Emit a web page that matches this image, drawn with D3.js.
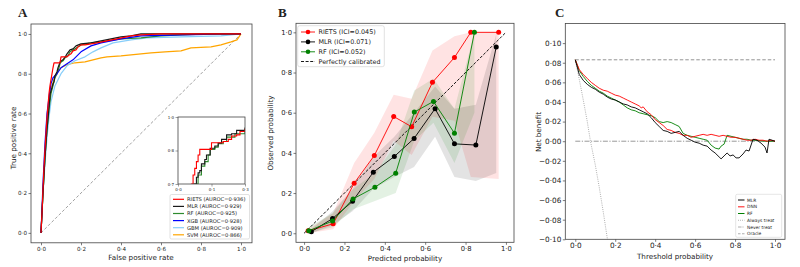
<!DOCTYPE html>
<html><head><meta charset="utf-8">
<script src="https://cdn.jsdelivr.net/npm/d3@7"></script>
<style>body{margin:0;background:#fff} svg{display:block} text{font-family:"DejaVu Sans",sans-serif;fill:#222}</style>
</head><body><svg id="c" width="800" height="267"></svg>
<script>
// ---------- Panel A: ROC ----------
const rocNames = ["RIETS (AUROC=0·936)","MLR (AUROC=0·929)","RF (AUROC=0·925)","XGB (AUROC=0·928)","GBM (AUROC=0·909)","SVM (AUROC=0·866)"];
const rocColors = ["#ff0000","#1a1a1a","#2e8b2e","#0000ff","#87cefa","#ffa500"];
const rocRIETS = [[0,0],[0.005,0.1],[0.01,0.22],[0.015,0.33],[0.02,0.42],[0.025,0.5],[0.03,0.58],[0.035,0.64],[0.04,0.70],[0.045,0.74],[0.05,0.77],[0.055,0.80],[0.06,0.83],[0.065,0.855],[0.095,0.855],[0.1,0.885],[0.13,0.885],[0.135,0.89],[0.15,0.90],[0.16,0.915],[0.175,0.92],[0.185,0.935],[0.2,0.945],[0.22,0.945],[0.28,0.955],[0.33,0.965],[0.38,0.975],[0.45,0.99],[0.5,0.995],[0.6,1],[1,1]];
const rocMLR = [[0,0],[0.005,0.1],[0.01,0.2],[0.02,0.38],[0.03,0.52],[0.04,0.63],[0.046,0.70],[0.055,0.73],[0.06,0.75],[0.065,0.76],[0.07,0.79],[0.08,0.81],[0.085,0.83],[0.096,0.86],[0.11,0.87],[0.12,0.883],[0.13,0.90],[0.145,0.92],[0.16,0.925],[0.175,0.94],[0.2,0.95],[0.25,0.955],[0.3,0.965],[0.35,0.975],[0.4,0.985],[0.45,0.99],[0.5,1],[1,1]];
const rocRF = [[0,0],[0.005,0.1],[0.01,0.2],[0.02,0.38],[0.03,0.52],[0.04,0.62],[0.05,0.70],[0.06,0.74],[0.07,0.78],[0.08,0.80],[0.09,0.83],[0.096,0.855],[0.11,0.865],[0.12,0.88],[0.135,0.89],[0.145,0.91],[0.17,0.925],[0.2,0.945],[0.25,0.955],[0.3,0.96],[0.4,0.975],[0.5,0.98],[0.6,0.99],[0.7,0.995],[0.85,1],[1,1]];
const rocXGB = [[0,0],[0.005,0.12],[0.01,0.25],[0.02,0.45],[0.03,0.6],[0.04,0.68],[0.05,0.75],[0.06,0.78],[0.08,0.8],[0.1,0.83],[0.13,0.85],[0.16,0.87],[0.2,0.91],[0.25,0.94],[0.3,0.955],[0.4,0.975],[0.5,0.99],[0.7,0.995],[0.93,1],[1,1]];
const rocGBM = [[0,0],[0.005,0.1],[0.01,0.2],[0.02,0.35],[0.03,0.48],[0.04,0.58],[0.05,0.66],[0.07,0.74],[0.1,0.8],[0.13,0.84],[0.17,0.865],[0.22,0.885],[0.26,0.91],[0.3,0.93],[0.36,0.955],[0.45,0.97],[0.53,0.98],[0.7,0.985],[0.9,0.99],[1,1]];
const rocSVM = [[0,0],[0.005,0.1],[0.01,0.2],[0.02,0.38],[0.03,0.55],[0.04,0.65],[0.05,0.72],[0.07,0.79],[0.1,0.83],[0.13,0.845],[0.17,0.855],[0.22,0.86],[0.26,0.87],[0.3,0.88],[0.33,0.885],[0.4,0.89],[0.45,0.895],[0.5,0.9],[0.55,0.905],[0.62,0.91],[0.7,0.915],[0.75,0.93],[0.85,0.935],[0.9,0.945],[0.95,0.96],[0.98,0.97],[1,1]];
const rocTicks = [0,0.2,0.4,0.6,0.8,1.0];
const rocTickLabels = ["0·0","0·2","0·4","0·6","0·8","1·0"];
const insetXTicks = [0,0.1,0.2], insetXLabels = ["0·0","0·1","0·3"];
const insetYTicks = [0.7,0.85,1.0], insetYLabels = ["0·7","0·8","1·0"];

// ---------- Panel B: calibration ----------
const calNames = ["RIETS (ICI=0.045)","MLR (ICI=0.071)","RF (ICI=0.052)"];
const calColors = ["#ff0000","#000000","#008000"];
const calRIETSx = [0.02,0.144,0.248,0.348,0.444,0.533,0.636,0.745,0.826,0.964];
const calRIETSy = [0.012,0.047,0.249,0.387,0.581,0.53,0.751,0.875,1.0,1.0];
const calRIETSlo = [0.0,0.02,0.16,0.27,0.46,0.39,0.58,0.56,0.28,0.27];
const calRIETShi = [0.02,0.1,0.35,0.5,0.69,0.67,0.91,0.98,1.0,1.0];
const calMLRx = [0.036,0.141,0.24,0.343,0.447,0.545,0.649,0.745,0.851,0.952];
const calMLRy = [0.008,0.073,0.159,0.304,0.382,0.472,0.62,0.445,0.439,0.927];
const calMLRlo = [0.0,0.04,0.11,0.22,0.28,0.33,0.48,0.28,0.26,0.30];
const calMLRhi = [0.02,0.11,0.22,0.38,0.48,0.6,0.73,0.62,0.64,0.99];
const calRFx = [0.023,0.141,0.243,0.351,0.454,0.546,0.641,0.745,0.844];
const calRFy = [0.012,0.061,0.171,0.229,0.299,0.603,0.656,0.498,1.0];
const calRFlo = [0.0,0.03,0.12,0.16,0.2,0.46,0.55,0.35,0.6];
const calRFhi = [0.03,0.1,0.22,0.3,0.44,0.71,0.77,0.62,1.0];

// ---------- Panel C: decision curve ----------
const dcaNames = ["MLR","DNN","RF","Always treat","Never treat","Oracle"];
const dcaMLR = [[0,0.083],[0.02,0.068],[0.04,0.062],[0.06,0.058],[0.08,0.055],[0.1,0.053],[0.12,0.050],[0.14,0.048],[0.16,0.045],[0.18,0.043],[0.2,0.042],[0.22,0.040],[0.24,0.038],[0.26,0.037],[0.28,0.035],[0.3,0.034],[0.32,0.032],[0.34,0.030],[0.36,0.028],[0.38,0.024],[0.4,0.019],[0.42,0.015],[0.44,0.011],[0.46,0.010],[0.48,0.008],[0.5,0.009],[0.52,0.010],[0.54,0.006],[0.56,0.003],[0.58,0.001],[0.6,-0.001],[0.62,-0.002],[0.64,-0.004],[0.66,-0.005],[0.68,-0.009],[0.7,-0.012],[0.72,-0.016],[0.73,-0.018],[0.745,-0.015],[0.76,-0.012],[0.775,-0.015],[0.79,-0.014],[0.805,-0.017],[0.82,-0.017],[0.84,-0.013],[0.855,-0.009],[0.87,-0.010],[0.89,0.002],[0.91,0.001],[0.93,-0.002],[0.95,-0.006],[0.96,-0.012],[0.97,0.002],[0.985,0.001],[1.0,0.0]];
const dcaDNN = [[0,0.083],[0.02,0.073],[0.04,0.068],[0.06,0.064],[0.08,0.060],[0.1,0.057],[0.12,0.054],[0.14,0.052],[0.16,0.051],[0.18,0.049],[0.2,0.047],[0.22,0.046],[0.24,0.044],[0.26,0.042],[0.28,0.040],[0.3,0.038],[0.32,0.036],[0.33,0.034],[0.34,0.035],[0.36,0.030],[0.38,0.027],[0.4,0.022],[0.42,0.019],[0.44,0.016],[0.46,0.012],[0.48,0.011],[0.5,0.009],[0.52,0.008],[0.54,0.006],[0.56,0.006],[0.58,0.004],[0.6,0.005],[0.62,0.006],[0.64,0.007],[0.66,0.006],[0.68,0.007],[0.7,0.006],[0.72,0.005],[0.74,0.006],[0.76,0.005],[0.78,0.004],[0.8,0.004],[0.82,0.003],[0.84,0.002],[0.86,0.001],[0.88,0.001],[0.9,0.002],[0.92,0.001],[0.94,0.001],[0.96,0.0],[0.98,0.001],[1.0,0.0]];
const dcaRF = [[0,0.083],[0.02,0.072],[0.04,0.066],[0.06,0.061],[0.08,0.057],[0.1,0.054],[0.12,0.051],[0.14,0.049],[0.16,0.046],[0.18,0.044],[0.2,0.042],[0.22,0.040],[0.24,0.037],[0.26,0.034],[0.28,0.032],[0.3,0.031],[0.32,0.029],[0.34,0.028],[0.36,0.027],[0.38,0.026],[0.4,0.024],[0.42,0.020],[0.44,0.019],[0.46,0.020],[0.48,0.019],[0.5,0.017],[0.52,0.015],[0.54,0.008],[0.56,0.006],[0.58,0.005],[0.6,0.004],[0.62,0.003],[0.64,0.002],[0.66,0.001],[0.68,-0.004],[0.7,-0.007],[0.72,-0.008],[0.73,-0.005],[0.745,-0.003],[0.76,0.006],[0.78,0.005],[0.8,0.004],[0.82,0.003],[0.84,0.002],[0.86,0.002],[0.88,0.001],[0.9,0.001],[0.95,0.0],[1.0,0.0]];
const dcaAlways = [[0,0.083],[0.02,0.063],[0.04,0.042],[0.06,0.02],[0.076,0.0],[0.1,-0.024],[0.12,-0.047],[0.14,-0.072],[0.161,-0.10],[0.17,-0.112]];
const dcaNever = [[0,0],[1,0]];
const dcaOracle = [[0,0.083],[1,0.083]];
const dcaYTicks = [-0.10,-0.08,-0.06,-0.04,-0.02,0,0.02,0.04,0.06,0.08,0.10];
const dcaYLabels = ["−0·10","−0·08","−0·06","−0·04","−0·02","0·00","0·02","0·04","0·06","0·08","0·10"];

const svg = d3.select("#c");
const FRAME = "#444";

function axes(g, x, y, xt, xl, yt, yl, fs) {
  const ax = d3.axisBottom(x).tickValues(xt).tickFormat((d,i)=>xl[i]).tickSize(2.5).tickPadding(1.5);
  const ay = d3.axisLeft(y).tickValues(yt).tickFormat((d,i)=>yl[i]).tickSize(2.5).tickPadding(1.5);
  const gx = g.append("g").attr("transform",`translate(0,${y.range()[0]})`).call(ax);
  const gy = g.append("g").attr("transform",`translate(${x.range()[0]},0)`).call(ay);
  [gx,gy].forEach(a=>{a.select(".domain").remove();a.selectAll("line").attr("stroke",FRAME).attr("stroke-width",0.7);
    a.selectAll("text").attr("font-size",fs).attr("font-family","DejaVu Sans").style("fill","#222");});
  g.append("rect").attr("x",x.range()[0]).attr("y",y.range()[1]).attr("width",x.range()[1]-x.range()[0])
   .attr("height",y.range()[0]-y.range()[1]).attr("fill","none").attr("stroke",FRAME).attr("stroke-width",0.8);
}
function panelLabel(t,x,y){svg.append("text").attr("x",x).attr("y",y).text(t).attr("font-family","Liberation Serif").attr("font-weight","bold").attr("font-size",13).style("font-family","Liberation Serif");}
function xlabel(t,x,y,fs){svg.append("text").attr("x",x).attr("y",y).attr("text-anchor","middle").attr("font-size",fs).text(t);}
function ylabel(t,x,y,fs){svg.append("text").attr("transform",`translate(${x},${y}) rotate(-90)`).attr("text-anchor","middle").attr("font-size",fs).text(t);}

// ===== Panel A =====
{
  const x = d3.scaleLinear().domain([-0.05,1.055]).range([31,252]);
  const y = d3.scaleLinear().domain([-0.05,1.05]).range([242.8,24]);
  const g = svg.append("g");
  axes(g,x,y,rocTicks,rocTickLabels,rocTicks,rocTickLabels,5.6);
  g.append("line").attr("x1",x(0)).attr("y1",y(0)).attr("x2",x(1)).attr("y2",y(1)).attr("stroke","#888").attr("stroke-width",0.8).attr("stroke-dasharray","3,2");
  const series = [rocRIETS,rocMLR,rocRF,rocXGB,rocGBM,rocSVM];
  const line = d3.line().x(d=>x(d[0])).y(d=>y(d[1]));
  const drawOrder = [5,4,2,3,1,0];
  drawOrder.forEach(i=>g.append("path").attr("d",line(series[i])).attr("fill","none").attr("stroke",rocColors[i]).attr("stroke-width",1.2).attr("stroke-linejoin","round"));
  // inset
  const ix = d3.scaleLinear().domain([0,0.2]).range([178,245]);
  const iy = d3.scaleLinear().domain([0.7,1.0]).range([184,117]);
  g.append("rect").attr("x",178).attr("y",117).attr("width",67).attr("height",67).attr("fill","#fff");
  svg.append("defs").append("clipPath").attr("id","insClip").append("rect").attr("x",178).attr("y",117).attr("width",67).attr("height",67);
  const gi = g.append("g");
  const iline = d3.line().x(d=>ix(d[0])).y(d=>iy(d[1])).curve(d3.curveStepAfter);
  const gic = gi.append("g").attr("clip-path","url(#insClip)");
  [2,1,0].forEach(i=>gic.append("path").attr("d",iline(series[i])).attr("fill","none").attr("stroke",rocColors[i]).attr("stroke-width",1.1));
  axes(gi,ix,iy,insetXTicks,insetXLabels,insetYTicks,insetYLabels,4);
  gi.selectAll(".tick line").attr("stroke-width",0.5);
  // legend
  const lg = g.append("g");
  lg.append("rect").attr("x",170).attr("y",194.5).attr("width",79.5).attr("height",44.5).attr("fill","#fff").attr("stroke","#ccc").attr("stroke-width",0.6).attr("rx",1.5);
  rocNames.forEach((n,i)=>{
    const yy = 199.3 + i*7.1;
    lg.append("line").attr("x1",173).attr("x2",184).attr("y1",yy).attr("y2",yy).attr("stroke",rocColors[i]).attr("stroke-width",1.2);
    lg.append("text").attr("x",187).attr("y",yy+1.9).attr("font-size",5.2).text(n);
  });
  xlabel("False positive rate",141,260,7.2);
  ylabel("True positive rate",15.5,138,7.2);
  panelLabel("A",18,16.5);
}

// ===== Panel B =====
{
  const x = d3.scaleLinear().domain([-0.04,1.04]).range([296,514]);
  const y = d3.scaleLinear().domain([-0.045,1.045]).range([242.3,23.3]);
  const g = svg.append("g");
  const sets = [
    {x:calRIETSx,y:calRIETSy,lo:calRIETSlo,hi:calRIETShi},
    {x:calMLRx,y:calMLRy,lo:calMLRlo,hi:calMLRhi},
    {x:calRFx,y:calRFy,lo:calRFlo,hi:calRFhi}];
  const area = d3.area().x(d=>x(d[0])).y0(d=>y(d[1])).y1(d=>y(d[2]));
  sets.forEach((s,i)=>{
    const pts = s.x.map((v,j)=>[v,s.lo[j],s.hi[j]]);
    g.append("path").attr("d",area(pts)).attr("fill",calColors[i]).attr("fill-opacity",0.11);
  });
  g.append("line").attr("x1",x(0)).attr("y1",y(0)).attr("x2",x(1)).attr("y2",y(1)).attr("stroke","#000").attr("stroke-width",0.9).attr("stroke-dasharray","3,1.6");
  const line = d3.line().x(d=>x(d[0])).y(d=>y(d[1]));
  sets.forEach((s,i)=>{
    const pts = s.x.map((v,j)=>[v,s.y[j]]);
    g.append("path").attr("d",line(pts)).attr("fill","none").attr("stroke",calColors[i]).attr("stroke-width",0.9);
    g.selectAll(null).data(pts).enter().append("circle").attr("cx",d=>x(d[0])).attr("cy",d=>y(d[1])).attr("r",2.5).attr("fill",calColors[i]);
  });
  axes(g,x,y,rocTicks,rocTickLabels,rocTicks,rocTickLabels,6.8);
  const lg = g.append("g");
  lg.append("rect").attr("x",297.7).attr("y",25.7).attr("width",86.6).attr("height",41).attr("fill","#fff").attr("fill-opacity",0.85).attr("stroke","#ccc").attr("stroke-width",0.6).attr("rx",2);
  calNames.forEach((n,i)=>{
    const yy = 32 + i*9.9;
    lg.append("line").attr("x1",301).attr("x2",315).attr("y1",yy).attr("y2",yy).attr("stroke",calColors[i]).attr("stroke-width",0.9);
    lg.append("circle").attr("cx",308).attr("cy",yy).attr("r",2.3).attr("fill",calColors[i]);
    lg.append("text").attr("x",318.5).attr("y",yy+2.3).attr("font-size",6.4).text(n);
  });
  lg.append("line").attr("x1",301).attr("x2",315).attr("y1",61.5).attr("y2",61.5).attr("stroke","#000").attr("stroke-width",0.9).attr("stroke-dasharray","3,1.6");
  lg.append("text").attr("x",318.5).attr("y",63.8).attr("font-size",6.4).text("Perfectly calibrated");
  xlabel("Predicted probability",405,261,7.2);
  ylabel("Observed probability",273,133,7.2);
  panelLabel("B",278,16.5);
}

// ===== Panel C =====
{
  const x = d3.scaleLinear().domain([-0.05,1.05]).range([565.3,785]);
  const y = d3.scaleLinear().domain([-0.10,0.12]).range([239.3,23.5]);
  const g = svg.append("g");
  svg.select("defs").append("clipPath").attr("id","cClip").append("rect").attr("x",565.3).attr("y",23.5).attr("width",219.7).attr("height",215.8);
  const gc = g.append("g").attr("clip-path","url(#cClip)");
  const line = d3.line().x(d=>x(d[0])).y(d=>y(d[1]));
  gc.append("path").attr("d",line(dcaOracle)).attr("fill","none").attr("stroke","#888").attr("stroke-width",0.9).attr("stroke-dasharray","3.5,2");
  gc.append("path").attr("d",line(dcaNever)).attr("fill","none").attr("stroke","#999").attr("stroke-width",1).attr("stroke-dasharray","5,1.5,1.2,1.5");
  gc.append("path").attr("d",line(dcaAlways)).attr("fill","none").attr("stroke","#999").attr("stroke-width",0.8).attr("stroke-dasharray","1,1.2");
  gc.append("path").attr("d",line(dcaRF)).attr("fill","none").attr("stroke","#008000").attr("stroke-width",0.9);
  gc.append("path").attr("d",line(dcaDNN)).attr("fill","none").attr("stroke","#ff0000").attr("stroke-width",0.9);
  gc.append("path").attr("d",line(dcaMLR)).attr("fill","none").attr("stroke","#000").attr("stroke-width",0.9);
  axes(g,x,y,rocTicks,rocTickLabels,dcaYTicks,dcaYLabels,7.3);
  const lg = g.append("g");
  lg.append("rect").attr("x",735.7).attr("y",194.3).attr("width",46).attr("height",43).attr("fill","#fff").attr("stroke","#ccc").attr("stroke-width",0.5).attr("rx",1.5);
  const styles = [
    {c:"#000",w:1,d:null},{c:"#ff5555",w:1.4,d:null},{c:"#008000",w:1,d:null},
    {c:"#999",w:0.7,d:"1,1"},{c:"#999",w:0.8,d:"3.5,1,1,1"},{c:"#999",w:0.8,d:"2.5,1.5"}];
  dcaNames.forEach((n,i)=>{
    const yy = 200 + i*6.75;
    const l = lg.append("line").attr("x1",738).attr("x2",744.5).attr("y1",yy).attr("y2",yy).attr("stroke",styles[i].c).attr("stroke-width",styles[i].w);
    if (styles[i].d) l.attr("stroke-dasharray",styles[i].d);
    lg.append("text").attr("x",747).attr("y",yy+1.6).attr("font-size",4.4).text(n);
  });
  xlabel("Threshold probability",675,259,7.2);
  ylabel("Net benefit",541,132,7.2);
  panelLabel("C",555,16.5);
}
</script></body></html>
